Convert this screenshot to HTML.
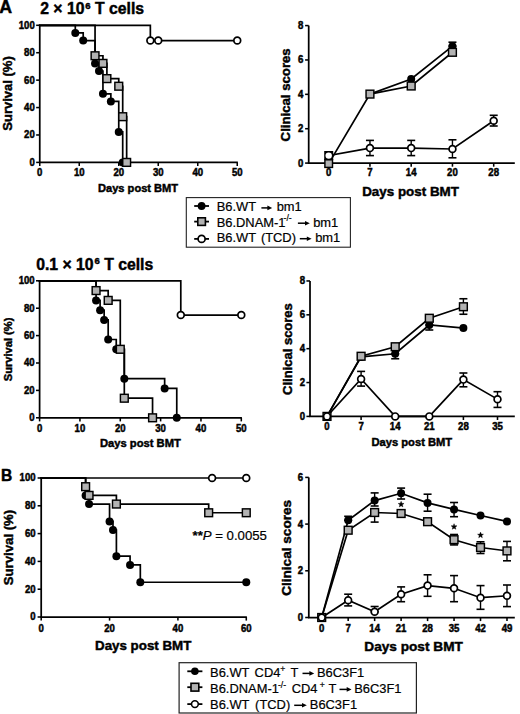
<!DOCTYPE html>
<html><head><meta charset="utf-8"><style>
html,body{margin:0;padding:0;background:#fff;width:520px;height:714px;overflow:hidden}
svg{display:block}
text{font-family:"Liberation Sans", sans-serif;fill:#000}
text[font-weight=bold]{stroke:#000;stroke-width:0.45px}
.lg{stroke:#000;stroke-width:0.2px}
</style></head><body>
<svg width="520" height="714" viewBox="0 0 520 714">
<text x="-0.70" y="12.50" font-size="17.8" text-anchor="start" font-weight="bold" >A</text>
<text x="40.2" y="14.4" font-size="15.75" font-weight="bold">2 × 10<tspan font-size="9.6" dx="0.9" dy="-5.7">6</tspan><tspan dy="5.7"> T cells</tspan></text>
<line x1="39.75" y1="25.30" x2="39.75" y2="162.40" stroke="#000" stroke-width="1.75"/>
<line x1="38.95" y1="162.40" x2="237.85" y2="162.40" stroke="#000" stroke-width="1.75"/>
<line x1="36.15" y1="162.40" x2="39.75" y2="162.40" stroke="#000" stroke-width="1.55"/>
<text transform="translate(34.80,165.80) scale(1,1.07)" font-size="9.6" text-anchor="end" font-weight="bold">0</text>
<line x1="36.15" y1="134.98" x2="39.75" y2="134.98" stroke="#000" stroke-width="1.55"/>
<text transform="translate(34.80,138.38) scale(1,1.07)" font-size="9.6" text-anchor="end" font-weight="bold">20</text>
<line x1="36.15" y1="107.56" x2="39.75" y2="107.56" stroke="#000" stroke-width="1.55"/>
<text transform="translate(34.80,110.96) scale(1,1.07)" font-size="9.6" text-anchor="end" font-weight="bold">40</text>
<line x1="36.15" y1="80.14" x2="39.75" y2="80.14" stroke="#000" stroke-width="1.55"/>
<text transform="translate(34.80,83.54) scale(1,1.07)" font-size="9.6" text-anchor="end" font-weight="bold">60</text>
<line x1="36.15" y1="52.72" x2="39.75" y2="52.72" stroke="#000" stroke-width="1.55"/>
<text transform="translate(34.80,56.12) scale(1,1.07)" font-size="9.6" text-anchor="end" font-weight="bold">80</text>
<line x1="36.15" y1="25.30" x2="39.75" y2="25.30" stroke="#000" stroke-width="1.55"/>
<text transform="translate(34.80,28.70) scale(1,1.07)" font-size="9.6" text-anchor="end" font-weight="bold">100</text>
<line x1="39.75" y1="162.40" x2="39.75" y2="166.00" stroke="#000" stroke-width="1.55"/>
<text transform="translate(39.75,176.40) scale(1,1.07)" font-size="9.6" text-anchor="middle" font-weight="bold">0</text>
<line x1="79.25" y1="162.40" x2="79.25" y2="166.00" stroke="#000" stroke-width="1.55"/>
<text transform="translate(79.25,176.40) scale(1,1.07)" font-size="9.6" text-anchor="middle" font-weight="bold">10</text>
<line x1="118.75" y1="162.40" x2="118.75" y2="166.00" stroke="#000" stroke-width="1.55"/>
<text transform="translate(118.75,176.40) scale(1,1.07)" font-size="9.6" text-anchor="middle" font-weight="bold">20</text>
<line x1="158.25" y1="162.40" x2="158.25" y2="166.00" stroke="#000" stroke-width="1.55"/>
<text transform="translate(158.25,176.40) scale(1,1.07)" font-size="9.6" text-anchor="middle" font-weight="bold">30</text>
<line x1="197.75" y1="162.40" x2="197.75" y2="166.00" stroke="#000" stroke-width="1.55"/>
<text transform="translate(197.75,176.40) scale(1,1.07)" font-size="9.6" text-anchor="middle" font-weight="bold">40</text>
<line x1="237.25" y1="162.40" x2="237.25" y2="166.00" stroke="#000" stroke-width="1.55"/>
<text transform="translate(237.25,176.40) scale(1,1.07)" font-size="9.6" text-anchor="middle" font-weight="bold">50</text>
<text transform="translate(12.00,93.45) rotate(-90)" x="0" y="0" font-size="13.0" text-anchor="middle" font-weight="bold">Survival (%)</text>
<text x="98.00" y="191.80" font-size="11.1" text-anchor="start" font-weight="bold" >Days post BMT</text>
<polyline points="39.75,25.30 75.30,25.30 75.30,32.92 83.20,32.92 83.20,40.53 95.05,40.53 95.05,63.39 99.00,63.39 99.00,71.00 102.95,71.00 102.95,93.85 110.85,93.85 110.85,101.47 118.75,101.47 118.75,131.94 122.70,131.94 122.70,162.40" fill="none" stroke="#000" stroke-width="1.7" stroke-linejoin="miter" stroke-linecap="square"/>
<polyline points="39.75,25.30 95.05,25.30 95.05,55.76 102.95,55.76 102.95,63.39 106.90,63.39 106.90,78.62 118.75,78.62 118.75,86.23 122.70,86.23 122.70,116.70 126.65,116.70 126.65,162.40" fill="none" stroke="#000" stroke-width="1.7" stroke-linejoin="miter" stroke-linecap="square"/>
<polyline points="39.75,25.30 150.35,25.30 150.35,40.53 237.25,40.53" fill="none" stroke="#000" stroke-width="1.7" stroke-linejoin="miter" stroke-linecap="square"/>
<circle cx="75.30" cy="32.92" r="4.0" fill="#000"/>
<circle cx="83.20" cy="40.53" r="4.0" fill="#000"/>
<circle cx="95.05" cy="63.39" r="4.0" fill="#000"/>
<circle cx="99.00" cy="71.00" r="4.0" fill="#000"/>
<circle cx="102.95" cy="93.85" r="4.0" fill="#000"/>
<circle cx="110.85" cy="101.47" r="4.0" fill="#000"/>
<circle cx="118.75" cy="131.94" r="4.0" fill="#000"/>
<circle cx="122.70" cy="162.40" r="4.0" fill="#000"/>
<rect x="91.15" y="51.86" width="7.8" height="7.8" fill="#b3b3b3" stroke="#000" stroke-width="1.45"/>
<rect x="99.05" y="59.49" width="7.8" height="7.8" fill="#b3b3b3" stroke="#000" stroke-width="1.45"/>
<rect x="103.00" y="74.72" width="7.8" height="7.8" fill="#b3b3b3" stroke="#000" stroke-width="1.45"/>
<rect x="114.85" y="82.33" width="7.8" height="7.8" fill="#b3b3b3" stroke="#000" stroke-width="1.45"/>
<rect x="118.80" y="112.80" width="7.8" height="7.8" fill="#b3b3b3" stroke="#000" stroke-width="1.45"/>
<rect x="122.75" y="158.50" width="7.8" height="7.8" fill="#b3b3b3" stroke="#000" stroke-width="1.45"/>
<circle cx="150.35" cy="40.53" r="3.4" fill="#fff" stroke="#000" stroke-width="1.7"/>
<circle cx="158.25" cy="40.53" r="3.4" fill="#fff" stroke="#000" stroke-width="1.7"/>
<circle cx="237.25" cy="40.53" r="3.4" fill="#fff" stroke="#000" stroke-width="1.7"/>
<line x1="308.70" y1="25.58" x2="308.70" y2="163.10" stroke="#000" stroke-width="1.75"/>
<line x1="307.90" y1="163.10" x2="514.80" y2="163.10" stroke="#000" stroke-width="1.75"/>
<line x1="305.10" y1="163.10" x2="308.70" y2="163.10" stroke="#000" stroke-width="1.55"/>
<text transform="translate(303.30,166.50) scale(1,1.07)" font-size="9.6" text-anchor="end" font-weight="bold">0</text>
<line x1="305.10" y1="128.72" x2="308.70" y2="128.72" stroke="#000" stroke-width="1.55"/>
<text transform="translate(303.30,132.12) scale(1,1.07)" font-size="9.6" text-anchor="end" font-weight="bold">2</text>
<line x1="305.10" y1="94.34" x2="308.70" y2="94.34" stroke="#000" stroke-width="1.55"/>
<text transform="translate(303.30,97.74) scale(1,1.07)" font-size="9.6" text-anchor="end" font-weight="bold">4</text>
<line x1="305.10" y1="59.96" x2="308.70" y2="59.96" stroke="#000" stroke-width="1.55"/>
<text transform="translate(303.30,63.36) scale(1,1.07)" font-size="9.6" text-anchor="end" font-weight="bold">6</text>
<line x1="305.10" y1="25.58" x2="308.70" y2="25.58" stroke="#000" stroke-width="1.55"/>
<text transform="translate(303.30,28.98) scale(1,1.07)" font-size="9.6" text-anchor="end" font-weight="bold">8</text>
<line x1="328.70" y1="163.10" x2="328.70" y2="166.70" stroke="#000" stroke-width="1.55"/>
<text transform="translate(328.70,176.40) scale(1,1.07)" font-size="9.6" text-anchor="middle" font-weight="bold">0</text>
<line x1="369.95" y1="163.10" x2="369.95" y2="166.70" stroke="#000" stroke-width="1.55"/>
<text transform="translate(369.95,176.40) scale(1,1.07)" font-size="9.6" text-anchor="middle" font-weight="bold">7</text>
<line x1="411.20" y1="163.10" x2="411.20" y2="166.70" stroke="#000" stroke-width="1.55"/>
<text transform="translate(411.20,176.40) scale(1,1.07)" font-size="9.6" text-anchor="middle" font-weight="bold">14</text>
<line x1="452.45" y1="163.10" x2="452.45" y2="166.70" stroke="#000" stroke-width="1.55"/>
<text transform="translate(452.45,176.40) scale(1,1.07)" font-size="9.6" text-anchor="middle" font-weight="bold">20</text>
<line x1="493.70" y1="163.10" x2="493.70" y2="166.70" stroke="#000" stroke-width="1.55"/>
<text transform="translate(493.70,176.40) scale(1,1.07)" font-size="9.6" text-anchor="middle" font-weight="bold">28</text>
<text transform="translate(290.40,94.85) rotate(-90)" x="0" y="0" font-size="13.2" text-anchor="middle" font-weight="bold">Clinical scores</text>
<text x="362.20" y="195.60" font-size="13.4" text-anchor="start" font-weight="bold" >Days post BMT</text>
<polyline points="328.70,163.60 369.95,94.10 411.20,86.00 452.45,52.30" fill="none" stroke="#000" stroke-width="1.7" stroke-linejoin="miter" stroke-linecap="square"/>
<polyline points="369.95,94.10 411.20,79.00 452.45,46.20" fill="none" stroke="#000" stroke-width="1.7" stroke-linejoin="miter" stroke-linecap="square"/>
<polyline points="328.70,155.60 369.95,148.10 411.20,148.10 452.45,149.00 493.70,120.70" fill="none" stroke="#000" stroke-width="1.7" stroke-linejoin="miter" stroke-linecap="square"/>
<line x1="452.45" y1="42.20" x2="452.45" y2="46.00" stroke="#000" stroke-width="1.4"/>
<line x1="448.45" y1="42.20" x2="456.45" y2="42.20" stroke="#000" stroke-width="1.5999999999999999"/>
<line x1="448.45" y1="46.00" x2="456.45" y2="46.00" stroke="#000" stroke-width="1.5999999999999999"/>
<circle cx="411.20" cy="79.00" r="4.0" fill="#000"/>
<circle cx="452.45" cy="46.20" r="4.0" fill="#000"/>
<rect x="324.20" y="151" width="9" height="9" fill="#000"/>
<rect x="324.90" y="159.80" width="7.6" height="7.6" fill="#b3b3b3" stroke="#000" stroke-width="1.45"/>
<rect x="366.05" y="90.20" width="7.8" height="7.8" fill="#b3b3b3" stroke="#000" stroke-width="1.45"/>
<rect x="407.30" y="82.10" width="7.8" height="7.8" fill="#b3b3b3" stroke="#000" stroke-width="1.45"/>
<rect x="448.55" y="48.40" width="7.8" height="7.8" fill="#b3b3b3" stroke="#000" stroke-width="1.45"/>
<line x1="369.95" y1="140.40" x2="369.95" y2="155.60" stroke="#000" stroke-width="1.4"/>
<line x1="365.95" y1="140.40" x2="373.95" y2="140.40" stroke="#000" stroke-width="1.5999999999999999"/>
<line x1="365.95" y1="155.60" x2="373.95" y2="155.60" stroke="#000" stroke-width="1.5999999999999999"/>
<line x1="411.20" y1="140.40" x2="411.20" y2="155.60" stroke="#000" stroke-width="1.4"/>
<line x1="407.20" y1="140.40" x2="415.20" y2="140.40" stroke="#000" stroke-width="1.5999999999999999"/>
<line x1="407.20" y1="155.60" x2="415.20" y2="155.60" stroke="#000" stroke-width="1.5999999999999999"/>
<line x1="452.45" y1="139.80" x2="452.45" y2="157.80" stroke="#000" stroke-width="1.4"/>
<line x1="448.45" y1="139.80" x2="456.45" y2="139.80" stroke="#000" stroke-width="1.5999999999999999"/>
<line x1="448.45" y1="157.80" x2="456.45" y2="157.80" stroke="#000" stroke-width="1.5999999999999999"/>
<line x1="493.70" y1="115.30" x2="493.70" y2="126.00" stroke="#000" stroke-width="1.4"/>
<line x1="489.70" y1="115.30" x2="497.70" y2="115.30" stroke="#000" stroke-width="1.5999999999999999"/>
<line x1="489.70" y1="126.00" x2="497.70" y2="126.00" stroke="#000" stroke-width="1.5999999999999999"/>
<circle cx="328.70" cy="155.60" r="3.2" fill="#fff" stroke="#000" stroke-width="0.01"/>
<circle cx="369.95" cy="148.10" r="3.4" fill="#fff" stroke="#000" stroke-width="1.7"/>
<circle cx="411.20" cy="148.10" r="3.4" fill="#fff" stroke="#000" stroke-width="1.7"/>
<circle cx="452.45" cy="149.00" r="3.4" fill="#fff" stroke="#000" stroke-width="1.7"/>
<circle cx="493.70" cy="120.70" r="3.4" fill="#fff" stroke="#000" stroke-width="1.7"/>
<rect x="186.3" y="197.6" width="164.1" height="49.6" fill="none" stroke="#222" stroke-width="1.1"/>
<line x1="194.20" y1="206.00" x2="209.00" y2="206.00" stroke="#000" stroke-width="1.8"/>
<circle cx="201.60" cy="206.00" r="3.9" fill="#000"/>
<line x1="194.20" y1="221.60" x2="209.00" y2="221.60" stroke="#000" stroke-width="1.8"/>
<rect x="197.80" y="217.80" width="7.6" height="7.6" fill="#b3b3b3" stroke="#000" stroke-width="1.6"/>
<line x1="194.20" y1="238.90" x2="209.00" y2="238.90" stroke="#000" stroke-width="1.8"/>
<circle cx="201.60" cy="238.90" r="3.5" fill="#fff" stroke="#000" stroke-width="1.7"/>
<text x="216.70" y="211.30" font-size="12.9" class="lg">B6.WT</text>
<line x1="261.40" y1="207.90" x2="268.70" y2="207.90" stroke="#000" stroke-width="1.5"/>
<path d="M267.40,205.60 L272.20,207.90 L267.40,210.20 Z" fill="#000"/>
<text x="276.70" y="211.30" font-size="12.9" class="lg">bm1</text>
<text x="216.70" y="226.60" font-size="12.9" class="lg">B6.DNAM-1</text>
<text x="283.60" y="221.00" font-size="8.6" class="lg">-/-</text>
<line x1="297.90" y1="223.20" x2="306.30" y2="223.20" stroke="#000" stroke-width="1.5"/>
<path d="M305.00,220.90 L309.80,223.20 L305.00,225.50 Z" fill="#000"/>
<text x="313.20" y="226.60" font-size="12.9" class="lg">bm1</text>
<text x="216.70" y="242.10" font-size="12.9" class="lg">B6.WT</text>
<text x="260.90" y="242.10" font-size="12.9" class="lg">(TCD)</text>
<line x1="299.80" y1="238.70" x2="308.10" y2="238.70" stroke="#000" stroke-width="1.5"/>
<path d="M306.80,236.40 L311.60,238.70 L306.80,241.00 Z" fill="#000"/>
<text x="315.20" y="242.10" font-size="12.9" class="lg">bm1</text>
<text x="36.2" y="270" font-size="15.75" font-weight="bold">0.1 × 10<tspan font-size="9.6" dx="0.9" dy="-5.7">6</tspan><tspan dy="5.7"> T cells</tspan></text>
<line x1="39.60" y1="280.80" x2="39.60" y2="417.80" stroke="#000" stroke-width="1.75"/>
<line x1="38.80" y1="417.80" x2="241.90" y2="417.80" stroke="#000" stroke-width="1.75"/>
<line x1="36.00" y1="417.80" x2="39.60" y2="417.80" stroke="#000" stroke-width="1.55"/>
<text transform="translate(34.70,421.20) scale(1,1.07)" font-size="9.6" text-anchor="end" font-weight="bold">0</text>
<line x1="36.00" y1="390.40" x2="39.60" y2="390.40" stroke="#000" stroke-width="1.55"/>
<text transform="translate(34.70,393.80) scale(1,1.07)" font-size="9.6" text-anchor="end" font-weight="bold">20</text>
<line x1="36.00" y1="363.00" x2="39.60" y2="363.00" stroke="#000" stroke-width="1.55"/>
<text transform="translate(34.70,366.40) scale(1,1.07)" font-size="9.6" text-anchor="end" font-weight="bold">40</text>
<line x1="36.00" y1="335.60" x2="39.60" y2="335.60" stroke="#000" stroke-width="1.55"/>
<text transform="translate(34.70,339.00) scale(1,1.07)" font-size="9.6" text-anchor="end" font-weight="bold">60</text>
<line x1="36.00" y1="308.20" x2="39.60" y2="308.20" stroke="#000" stroke-width="1.55"/>
<text transform="translate(34.70,311.60) scale(1,1.07)" font-size="9.6" text-anchor="end" font-weight="bold">80</text>
<line x1="36.00" y1="280.80" x2="39.60" y2="280.80" stroke="#000" stroke-width="1.55"/>
<text transform="translate(34.70,284.20) scale(1,1.07)" font-size="9.6" text-anchor="end" font-weight="bold">100</text>
<line x1="39.60" y1="417.80" x2="39.60" y2="421.40" stroke="#000" stroke-width="1.55"/>
<text transform="translate(39.60,431.60) scale(1,1.07)" font-size="9.6" text-anchor="middle" font-weight="bold">0</text>
<line x1="79.94" y1="417.80" x2="79.94" y2="421.40" stroke="#000" stroke-width="1.55"/>
<text transform="translate(79.94,431.60) scale(1,1.07)" font-size="9.6" text-anchor="middle" font-weight="bold">10</text>
<line x1="120.28" y1="417.80" x2="120.28" y2="421.40" stroke="#000" stroke-width="1.55"/>
<text transform="translate(120.28,431.60) scale(1,1.07)" font-size="9.6" text-anchor="middle" font-weight="bold">20</text>
<line x1="160.62" y1="417.80" x2="160.62" y2="421.40" stroke="#000" stroke-width="1.55"/>
<text transform="translate(160.62,431.60) scale(1,1.07)" font-size="9.6" text-anchor="middle" font-weight="bold">30</text>
<line x1="200.96" y1="417.80" x2="200.96" y2="421.40" stroke="#000" stroke-width="1.55"/>
<text transform="translate(200.96,431.60) scale(1,1.07)" font-size="9.6" text-anchor="middle" font-weight="bold">40</text>
<line x1="241.30" y1="417.80" x2="241.30" y2="421.40" stroke="#000" stroke-width="1.55"/>
<text transform="translate(241.30,431.60) scale(1,1.07)" font-size="9.6" text-anchor="middle" font-weight="bold">50</text>
<text transform="translate(12.00,349.40) rotate(-90)" x="0" y="0" font-size="11.1" text-anchor="middle" font-weight="bold">Survival (%)</text>
<text x="100.00" y="447.40" font-size="11.2" text-anchor="start" font-weight="bold" >Days post BMT</text>
<polyline points="39.60,280.80 96.08,280.80 96.08,300.38 100.11,300.38 100.11,310.16 104.14,310.16 104.14,319.94 108.18,319.94 108.18,339.52 116.25,339.52 116.25,349.30 124.31,349.30 124.31,378.66 164.65,378.66 164.65,388.44 176.76,388.44 176.76,417.80" fill="none" stroke="#000" stroke-width="1.7" stroke-linejoin="miter" stroke-linecap="square"/>
<polyline points="39.60,280.80 96.08,280.80 96.08,290.58 108.18,290.58 108.18,300.38 120.28,300.38 120.28,349.30 124.31,349.30 124.31,398.22 152.55,398.22 152.55,417.80" fill="none" stroke="#000" stroke-width="1.7" stroke-linejoin="miter" stroke-linecap="square"/>
<polyline points="39.60,280.80 180.79,280.80 180.79,315.05 241.30,315.05" fill="none" stroke="#000" stroke-width="1.7" stroke-linejoin="miter" stroke-linecap="square"/>
<circle cx="96.08" cy="300.38" r="4.0" fill="#000"/>
<circle cx="100.11" cy="310.16" r="4.0" fill="#000"/>
<circle cx="104.14" cy="319.94" r="4.0" fill="#000"/>
<circle cx="108.18" cy="339.52" r="4.0" fill="#000"/>
<circle cx="116.25" cy="349.30" r="4.0" fill="#000"/>
<circle cx="124.31" cy="378.66" r="4.0" fill="#000"/>
<circle cx="164.65" cy="388.44" r="4.0" fill="#000"/>
<circle cx="176.76" cy="417.80" r="4.0" fill="#000"/>
<rect x="92.18" y="286.68" width="7.8" height="7.8" fill="#b3b3b3" stroke="#000" stroke-width="1.45"/>
<rect x="104.28" y="296.48" width="7.8" height="7.8" fill="#b3b3b3" stroke="#000" stroke-width="1.45"/>
<rect x="116.38" y="345.40" width="7.8" height="7.8" fill="#b3b3b3" stroke="#000" stroke-width="1.45"/>
<rect x="120.41" y="394.32" width="7.8" height="7.8" fill="#b3b3b3" stroke="#000" stroke-width="1.45"/>
<rect x="148.65" y="413.90" width="7.8" height="7.8" fill="#b3b3b3" stroke="#000" stroke-width="1.45"/>
<circle cx="180.79" cy="315.05" r="3.4" fill="#fff" stroke="#000" stroke-width="1.7"/>
<circle cx="241.30" cy="315.05" r="3.4" fill="#fff" stroke="#000" stroke-width="1.7"/>
<line x1="310.00" y1="280.96" x2="310.00" y2="416.40" stroke="#000" stroke-width="1.75"/>
<line x1="309.20" y1="416.40" x2="514.80" y2="416.40" stroke="#000" stroke-width="1.75"/>
<line x1="306.40" y1="416.40" x2="310.00" y2="416.40" stroke="#000" stroke-width="1.55"/>
<text transform="translate(305.20,419.80) scale(1,1.07)" font-size="9.6" text-anchor="end" font-weight="bold">0</text>
<line x1="306.40" y1="382.54" x2="310.00" y2="382.54" stroke="#000" stroke-width="1.55"/>
<text transform="translate(305.20,385.94) scale(1,1.07)" font-size="9.6" text-anchor="end" font-weight="bold">2</text>
<line x1="306.40" y1="348.68" x2="310.00" y2="348.68" stroke="#000" stroke-width="1.55"/>
<text transform="translate(305.20,352.08) scale(1,1.07)" font-size="9.6" text-anchor="end" font-weight="bold">4</text>
<line x1="306.40" y1="314.82" x2="310.00" y2="314.82" stroke="#000" stroke-width="1.55"/>
<text transform="translate(305.20,318.22) scale(1,1.07)" font-size="9.6" text-anchor="end" font-weight="bold">6</text>
<line x1="306.40" y1="280.96" x2="310.00" y2="280.96" stroke="#000" stroke-width="1.55"/>
<text transform="translate(305.20,284.36) scale(1,1.07)" font-size="9.6" text-anchor="end" font-weight="bold">8</text>
<line x1="327.00" y1="416.40" x2="327.00" y2="420.00" stroke="#000" stroke-width="1.55"/>
<text transform="translate(327.00,430.30) scale(1,1.07)" font-size="9.6" text-anchor="middle" font-weight="bold">0</text>
<line x1="361.10" y1="416.40" x2="361.10" y2="420.00" stroke="#000" stroke-width="1.55"/>
<text transform="translate(361.10,430.30) scale(1,1.07)" font-size="9.6" text-anchor="middle" font-weight="bold">7</text>
<line x1="395.20" y1="416.40" x2="395.20" y2="420.00" stroke="#000" stroke-width="1.55"/>
<text transform="translate(395.20,430.30) scale(1,1.07)" font-size="9.6" text-anchor="middle" font-weight="bold">14</text>
<line x1="429.30" y1="416.40" x2="429.30" y2="420.00" stroke="#000" stroke-width="1.55"/>
<text transform="translate(429.30,430.30) scale(1,1.07)" font-size="9.6" text-anchor="middle" font-weight="bold">21</text>
<line x1="463.40" y1="416.40" x2="463.40" y2="420.00" stroke="#000" stroke-width="1.55"/>
<text transform="translate(463.40,430.30) scale(1,1.07)" font-size="9.6" text-anchor="middle" font-weight="bold">28</text>
<line x1="497.50" y1="416.40" x2="497.50" y2="420.00" stroke="#000" stroke-width="1.55"/>
<text transform="translate(497.50,430.30) scale(1,1.07)" font-size="9.6" text-anchor="middle" font-weight="bold">35</text>
<text transform="translate(292.40,349.05) rotate(-90)" x="0" y="0" font-size="13.0" text-anchor="middle" font-weight="bold">Clinical scores</text>
<text x="371.40" y="446.10" font-size="11.2" text-anchor="start" font-weight="bold" >Days post BMT</text>
<polyline points="327.00,416.40 361.10,356.25 395.20,346.75 429.30,318.25 463.40,306.75" fill="none" stroke="#000" stroke-width="1.7" stroke-linejoin="miter" stroke-linecap="square"/>
<polyline points="327.00,416.40 361.10,356.90 395.20,353.75 429.30,325.00 463.40,328.00" fill="none" stroke="#000" stroke-width="1.7" stroke-linejoin="miter" stroke-linecap="square"/>
<polyline points="327.00,416.40 361.10,379.00 395.20,416.40 429.30,416.40 463.40,379.60 497.50,399.20" fill="none" stroke="#000" stroke-width="1.7" stroke-linejoin="miter" stroke-linecap="square"/>
<line x1="395.20" y1="353.75" x2="395.20" y2="358.75" stroke="#000" stroke-width="1.4"/>
<line x1="391.20" y1="353.75" x2="399.20" y2="353.75" stroke="#000" stroke-width="1.5999999999999999"/>
<line x1="391.20" y1="358.75" x2="399.20" y2="358.75" stroke="#000" stroke-width="1.5999999999999999"/>
<line x1="429.30" y1="325.00" x2="429.30" y2="330.00" stroke="#000" stroke-width="1.4"/>
<line x1="425.30" y1="325.00" x2="433.30" y2="325.00" stroke="#000" stroke-width="1.5999999999999999"/>
<line x1="425.30" y1="330.00" x2="433.30" y2="330.00" stroke="#000" stroke-width="1.5999999999999999"/>
<circle cx="361.10" cy="356.90" r="4.0" fill="#000"/>
<circle cx="395.20" cy="353.75" r="4.0" fill="#000"/>
<circle cx="429.30" cy="325.00" r="4.0" fill="#000"/>
<circle cx="463.40" cy="328.00" r="4.0" fill="#000"/>
<line x1="463.40" y1="298.75" x2="463.40" y2="314.25" stroke="#000" stroke-width="1.4"/>
<line x1="459.40" y1="298.75" x2="467.40" y2="298.75" stroke="#000" stroke-width="1.5999999999999999"/>
<line x1="459.40" y1="314.25" x2="467.40" y2="314.25" stroke="#000" stroke-width="1.5999999999999999"/>
<rect x="323.10" y="412.50" width="7.8" height="7.8" fill="#b3b3b3" stroke="#000" stroke-width="1.45"/>
<rect x="357.20" y="352.35" width="7.8" height="7.8" fill="#b3b3b3" stroke="#000" stroke-width="1.45"/>
<rect x="391.30" y="342.85" width="7.8" height="7.8" fill="#b3b3b3" stroke="#000" stroke-width="1.45"/>
<rect x="425.40" y="314.35" width="7.8" height="7.8" fill="#b3b3b3" stroke="#000" stroke-width="1.45"/>
<rect x="459.50" y="302.85" width="7.8" height="7.8" fill="#b3b3b3" stroke="#000" stroke-width="1.45"/>
<line x1="361.10" y1="371.40" x2="361.10" y2="386.10" stroke="#000" stroke-width="1.4"/>
<line x1="357.10" y1="371.40" x2="365.10" y2="371.40" stroke="#000" stroke-width="1.5999999999999999"/>
<line x1="357.10" y1="386.10" x2="365.10" y2="386.10" stroke="#000" stroke-width="1.5999999999999999"/>
<line x1="463.40" y1="373.00" x2="463.40" y2="386.80" stroke="#000" stroke-width="1.4"/>
<line x1="459.40" y1="373.00" x2="467.40" y2="373.00" stroke="#000" stroke-width="1.5999999999999999"/>
<line x1="459.40" y1="386.80" x2="467.40" y2="386.80" stroke="#000" stroke-width="1.5999999999999999"/>
<line x1="497.50" y1="391.70" x2="497.50" y2="407.40" stroke="#000" stroke-width="1.4"/>
<line x1="493.50" y1="391.70" x2="501.50" y2="391.70" stroke="#000" stroke-width="1.5999999999999999"/>
<line x1="493.50" y1="407.40" x2="501.50" y2="407.40" stroke="#000" stroke-width="1.5999999999999999"/>
<circle cx="327.00" cy="416.40" r="3.4" fill="#fff" stroke="#000" stroke-width="1.7"/>
<circle cx="361.10" cy="379.00" r="3.4" fill="#fff" stroke="#000" stroke-width="1.7"/>
<circle cx="395.20" cy="416.40" r="3.4" fill="#fff" stroke="#000" stroke-width="1.7"/>
<circle cx="429.30" cy="416.40" r="3.4" fill="#fff" stroke="#000" stroke-width="1.7"/>
<circle cx="463.40" cy="379.60" r="3.4" fill="#fff" stroke="#000" stroke-width="1.7"/>
<circle cx="497.50" cy="399.20" r="3.4" fill="#fff" stroke="#000" stroke-width="1.7"/>
<text x="0.90" y="481.10" font-size="15.6" text-anchor="start" font-weight="bold" >B</text>
<line x1="41.20" y1="478.00" x2="41.20" y2="617.00" stroke="#000" stroke-width="1.75"/>
<line x1="40.40" y1="617.00" x2="246.88" y2="617.00" stroke="#000" stroke-width="1.75"/>
<line x1="37.60" y1="617.00" x2="41.20" y2="617.00" stroke="#000" stroke-width="1.55"/>
<text transform="translate(35.60,620.40) scale(1,1.07)" font-size="9.6" text-anchor="end" font-weight="bold">0</text>
<line x1="37.60" y1="589.20" x2="41.20" y2="589.20" stroke="#000" stroke-width="1.55"/>
<text transform="translate(35.60,592.60) scale(1,1.07)" font-size="9.6" text-anchor="end" font-weight="bold">20</text>
<line x1="37.60" y1="561.40" x2="41.20" y2="561.40" stroke="#000" stroke-width="1.55"/>
<text transform="translate(35.60,564.80) scale(1,1.07)" font-size="9.6" text-anchor="end" font-weight="bold">40</text>
<line x1="37.60" y1="533.60" x2="41.20" y2="533.60" stroke="#000" stroke-width="1.55"/>
<text transform="translate(35.60,537.00) scale(1,1.07)" font-size="9.6" text-anchor="end" font-weight="bold">60</text>
<line x1="37.60" y1="505.80" x2="41.20" y2="505.80" stroke="#000" stroke-width="1.55"/>
<text transform="translate(35.60,509.20) scale(1,1.07)" font-size="9.6" text-anchor="end" font-weight="bold">80</text>
<line x1="37.60" y1="478.00" x2="41.20" y2="478.00" stroke="#000" stroke-width="1.55"/>
<text transform="translate(35.60,481.40) scale(1,1.07)" font-size="9.6" text-anchor="end" font-weight="bold">100</text>
<line x1="41.20" y1="617.00" x2="41.20" y2="620.60" stroke="#000" stroke-width="1.55"/>
<text transform="translate(41.20,631.80) scale(1,1.07)" font-size="9.6" text-anchor="middle" font-weight="bold">0</text>
<line x1="109.56" y1="617.00" x2="109.56" y2="620.60" stroke="#000" stroke-width="1.55"/>
<text transform="translate(109.56,631.80) scale(1,1.07)" font-size="9.6" text-anchor="middle" font-weight="bold">20</text>
<line x1="177.92" y1="617.00" x2="177.92" y2="620.60" stroke="#000" stroke-width="1.55"/>
<text transform="translate(177.92,631.80) scale(1,1.07)" font-size="9.6" text-anchor="middle" font-weight="bold">40</text>
<line x1="246.28" y1="617.00" x2="246.28" y2="620.60" stroke="#000" stroke-width="1.55"/>
<text transform="translate(246.28,631.80) scale(1,1.07)" font-size="9.6" text-anchor="middle" font-weight="bold">60</text>
<text transform="translate(12.60,547.50) rotate(-90)" x="0" y="0" font-size="13.2" text-anchor="middle" font-weight="bold">Survival (%)</text>
<text x="95.00" y="649.60" font-size="13.35" text-anchor="start" font-weight="bold" >Days post BMT</text>
<polyline points="41.20,478.00 85.63,478.00 85.63,495.38 89.05,495.38 89.05,504.06 109.56,504.06 109.56,521.44 112.98,521.44 112.98,530.12 116.40,530.12 116.40,556.19 130.07,556.19 130.07,564.88 140.32,564.88 140.32,582.25 246.28,582.25" fill="none" stroke="#000" stroke-width="1.7" stroke-linejoin="miter" stroke-linecap="square"/>
<polyline points="41.20,478.00 85.63,478.00 85.63,486.69 89.05,486.69 89.05,495.38 116.40,495.38 116.40,504.06 208.68,504.06 208.68,512.75 246.28,512.75" fill="none" stroke="#000" stroke-width="1.7" stroke-linejoin="miter" stroke-linecap="square"/>
<polyline points="41.20,478.00 246.28,478.00" fill="none" stroke="#000" stroke-width="1.7" stroke-linejoin="miter" stroke-linecap="square"/>
<circle cx="85.63" cy="495.38" r="4.0" fill="#000"/>
<circle cx="89.05" cy="504.06" r="4.0" fill="#000"/>
<circle cx="109.56" cy="521.44" r="4.0" fill="#000"/>
<circle cx="112.98" cy="530.12" r="4.0" fill="#000"/>
<circle cx="116.40" cy="556.19" r="4.0" fill="#000"/>
<circle cx="130.07" cy="564.88" r="4.0" fill="#000"/>
<circle cx="140.32" cy="582.25" r="4.0" fill="#000"/>
<circle cx="246.28" cy="582.25" r="4.0" fill="#000"/>
<rect x="81.73" y="482.79" width="7.8" height="7.8" fill="#b3b3b3" stroke="#000" stroke-width="1.45"/>
<rect x="85.15" y="491.48" width="7.8" height="7.8" fill="#b3b3b3" stroke="#000" stroke-width="1.45"/>
<rect x="112.50" y="500.16" width="7.8" height="7.8" fill="#b3b3b3" stroke="#000" stroke-width="1.45"/>
<rect x="204.78" y="508.85" width="7.8" height="7.8" fill="#b3b3b3" stroke="#000" stroke-width="1.45"/>
<rect x="242.38" y="508.85" width="7.8" height="7.8" fill="#b3b3b3" stroke="#000" stroke-width="1.45"/>
<circle cx="212.10" cy="478.00" r="3.4" fill="#fff" stroke="#000" stroke-width="1.7"/>
<circle cx="246.28" cy="478.00" r="3.4" fill="#fff" stroke="#000" stroke-width="1.7"/>
<text x="192.5" y="540.2" font-size="13.2" font-weight="normal" class="lg"><tspan font-weight="bold">**</tspan><tspan font-style="italic">P</tspan> = 0.0055</text>
<line x1="308.80" y1="477.40" x2="308.80" y2="617.50" stroke="#000" stroke-width="1.75"/>
<line x1="308.00" y1="617.50" x2="514.80" y2="617.50" stroke="#000" stroke-width="1.75"/>
<line x1="305.20" y1="617.50" x2="308.80" y2="617.50" stroke="#000" stroke-width="1.55"/>
<text transform="translate(303.20,620.90) scale(1,1.07)" font-size="9.6" text-anchor="end" font-weight="bold">0</text>
<line x1="305.20" y1="570.80" x2="308.80" y2="570.80" stroke="#000" stroke-width="1.55"/>
<text transform="translate(303.20,574.20) scale(1,1.07)" font-size="9.6" text-anchor="end" font-weight="bold">2</text>
<line x1="305.20" y1="524.10" x2="308.80" y2="524.10" stroke="#000" stroke-width="1.55"/>
<text transform="translate(303.20,527.50) scale(1,1.07)" font-size="9.6" text-anchor="end" font-weight="bold">4</text>
<line x1="305.20" y1="477.40" x2="308.80" y2="477.40" stroke="#000" stroke-width="1.55"/>
<text transform="translate(303.20,480.80) scale(1,1.07)" font-size="9.6" text-anchor="end" font-weight="bold">6</text>
<line x1="321.70" y1="617.50" x2="321.70" y2="621.10" stroke="#000" stroke-width="1.55"/>
<text transform="translate(321.70,631.60) scale(1,1.07)" font-size="9.6" text-anchor="middle" font-weight="bold">0</text>
<line x1="348.17" y1="617.50" x2="348.17" y2="621.10" stroke="#000" stroke-width="1.55"/>
<text transform="translate(348.17,631.60) scale(1,1.07)" font-size="9.6" text-anchor="middle" font-weight="bold">7</text>
<line x1="374.64" y1="617.50" x2="374.64" y2="621.10" stroke="#000" stroke-width="1.55"/>
<text transform="translate(374.64,631.60) scale(1,1.07)" font-size="9.6" text-anchor="middle" font-weight="bold">14</text>
<line x1="401.11" y1="617.50" x2="401.11" y2="621.10" stroke="#000" stroke-width="1.55"/>
<text transform="translate(401.11,631.60) scale(1,1.07)" font-size="9.6" text-anchor="middle" font-weight="bold">21</text>
<line x1="427.58" y1="617.50" x2="427.58" y2="621.10" stroke="#000" stroke-width="1.55"/>
<text transform="translate(427.58,631.60) scale(1,1.07)" font-size="9.6" text-anchor="middle" font-weight="bold">28</text>
<line x1="454.05" y1="617.50" x2="454.05" y2="621.10" stroke="#000" stroke-width="1.55"/>
<text transform="translate(454.05,631.60) scale(1,1.07)" font-size="9.6" text-anchor="middle" font-weight="bold">35</text>
<line x1="480.52" y1="617.50" x2="480.52" y2="621.10" stroke="#000" stroke-width="1.55"/>
<text transform="translate(480.52,631.60) scale(1,1.07)" font-size="9.6" text-anchor="middle" font-weight="bold">42</text>
<line x1="506.99" y1="617.50" x2="506.99" y2="621.10" stroke="#000" stroke-width="1.55"/>
<text transform="translate(506.99,631.60) scale(1,1.07)" font-size="9.6" text-anchor="middle" font-weight="bold">49</text>
<text transform="translate(290.60,547.85) rotate(-90)" x="0" y="0" font-size="13.6" text-anchor="middle" font-weight="bold">Clinical scores</text>
<text x="364.30" y="650.60" font-size="13.65" text-anchor="start" font-weight="bold" >Days post BMT</text>
<polyline points="321.70,617.50 348.17,520.20 374.64,500.60 401.11,493.30 427.58,502.90 454.05,509.40 480.52,515.50 506.99,521.50" fill="none" stroke="#000" stroke-width="1.7" stroke-linejoin="miter" stroke-linecap="square"/>
<polyline points="321.70,617.50 348.17,530.20 374.64,512.50 401.11,513.50 427.58,521.70 454.05,539.70 480.52,547.50 506.99,550.90" fill="none" stroke="#000" stroke-width="1.7" stroke-linejoin="miter" stroke-linecap="square"/>
<polyline points="321.70,617.50 348.17,600.20 374.64,611.80 401.11,594.20 427.58,585.60 454.05,588.30 480.52,597.70 506.99,595.80" fill="none" stroke="#000" stroke-width="1.7" stroke-linejoin="miter" stroke-linecap="square"/>
<line x1="348.17" y1="516.30" x2="348.17" y2="520.20" stroke="#000" stroke-width="1.4"/>
<line x1="344.17" y1="516.30" x2="352.17" y2="516.30" stroke="#000" stroke-width="1.5999999999999999"/>
<line x1="344.17" y1="520.20" x2="352.17" y2="520.20" stroke="#000" stroke-width="1.5999999999999999"/>
<line x1="374.64" y1="492.90" x2="374.64" y2="506.00" stroke="#000" stroke-width="1.4"/>
<line x1="370.64" y1="492.90" x2="378.64" y2="492.90" stroke="#000" stroke-width="1.5999999999999999"/>
<line x1="370.64" y1="506.00" x2="378.64" y2="506.00" stroke="#000" stroke-width="1.5999999999999999"/>
<line x1="401.11" y1="488.10" x2="401.11" y2="499.00" stroke="#000" stroke-width="1.4"/>
<line x1="397.11" y1="488.10" x2="405.11" y2="488.10" stroke="#000" stroke-width="1.5999999999999999"/>
<line x1="397.11" y1="499.00" x2="405.11" y2="499.00" stroke="#000" stroke-width="1.5999999999999999"/>
<line x1="427.58" y1="494.20" x2="427.58" y2="511.20" stroke="#000" stroke-width="1.4"/>
<line x1="423.58" y1="494.20" x2="431.58" y2="494.20" stroke="#000" stroke-width="1.5999999999999999"/>
<line x1="423.58" y1="511.20" x2="431.58" y2="511.20" stroke="#000" stroke-width="1.5999999999999999"/>
<line x1="454.05" y1="502.50" x2="454.05" y2="516.70" stroke="#000" stroke-width="1.4"/>
<line x1="450.05" y1="502.50" x2="458.05" y2="502.50" stroke="#000" stroke-width="1.5999999999999999"/>
<line x1="450.05" y1="516.70" x2="458.05" y2="516.70" stroke="#000" stroke-width="1.5999999999999999"/>
<circle cx="348.17" cy="520.20" r="4.0" fill="#000"/>
<circle cx="374.64" cy="500.60" r="4.0" fill="#000"/>
<circle cx="401.11" cy="493.30" r="4.0" fill="#000"/>
<circle cx="427.58" cy="502.90" r="4.0" fill="#000"/>
<circle cx="454.05" cy="509.40" r="4.0" fill="#000"/>
<circle cx="480.52" cy="515.50" r="4.0" fill="#000"/>
<circle cx="506.99" cy="521.50" r="4.0" fill="#000"/>
<line x1="374.64" y1="512.50" x2="374.64" y2="522.10" stroke="#000" stroke-width="1.4"/>
<line x1="370.64" y1="512.50" x2="378.64" y2="512.50" stroke="#000" stroke-width="1.5999999999999999"/>
<line x1="370.64" y1="522.10" x2="378.64" y2="522.10" stroke="#000" stroke-width="1.5999999999999999"/>
<line x1="454.05" y1="534.50" x2="454.05" y2="544.90" stroke="#000" stroke-width="1.4"/>
<line x1="450.05" y1="534.50" x2="458.05" y2="534.50" stroke="#000" stroke-width="1.5999999999999999"/>
<line x1="450.05" y1="544.90" x2="458.05" y2="544.90" stroke="#000" stroke-width="1.5999999999999999"/>
<line x1="480.52" y1="541.80" x2="480.52" y2="553.50" stroke="#000" stroke-width="1.4"/>
<line x1="476.52" y1="541.80" x2="484.52" y2="541.80" stroke="#000" stroke-width="1.5999999999999999"/>
<line x1="476.52" y1="553.50" x2="484.52" y2="553.50" stroke="#000" stroke-width="1.5999999999999999"/>
<line x1="506.99" y1="541.40" x2="506.99" y2="560.80" stroke="#000" stroke-width="1.4"/>
<line x1="502.99" y1="541.40" x2="510.99" y2="541.40" stroke="#000" stroke-width="1.5999999999999999"/>
<line x1="502.99" y1="560.80" x2="510.99" y2="560.80" stroke="#000" stroke-width="1.5999999999999999"/>
<rect x="317.80" y="613.60" width="7.8" height="7.8" fill="#b3b3b3" stroke="#000" stroke-width="1.45"/>
<rect x="344.27" y="526.30" width="7.8" height="7.8" fill="#b3b3b3" stroke="#000" stroke-width="1.45"/>
<rect x="370.74" y="508.60" width="7.8" height="7.8" fill="#b3b3b3" stroke="#000" stroke-width="1.45"/>
<rect x="397.21" y="509.60" width="7.8" height="7.8" fill="#b3b3b3" stroke="#000" stroke-width="1.45"/>
<rect x="423.68" y="517.80" width="7.8" height="7.8" fill="#b3b3b3" stroke="#000" stroke-width="1.45"/>
<rect x="450.15" y="535.80" width="7.8" height="7.8" fill="#b3b3b3" stroke="#000" stroke-width="1.45"/>
<rect x="476.62" y="543.60" width="7.8" height="7.8" fill="#b3b3b3" stroke="#000" stroke-width="1.45"/>
<rect x="503.09" y="547.00" width="7.8" height="7.8" fill="#b3b3b3" stroke="#000" stroke-width="1.45"/>
<line x1="348.17" y1="594.20" x2="348.17" y2="605.90" stroke="#000" stroke-width="1.4"/>
<line x1="344.17" y1="594.20" x2="352.17" y2="594.20" stroke="#000" stroke-width="1.5999999999999999"/>
<line x1="344.17" y1="605.90" x2="352.17" y2="605.90" stroke="#000" stroke-width="1.5999999999999999"/>
<line x1="374.64" y1="606.50" x2="374.64" y2="611.80" stroke="#000" stroke-width="1.4"/>
<line x1="370.64" y1="606.50" x2="378.64" y2="606.50" stroke="#000" stroke-width="1.5999999999999999"/>
<line x1="370.64" y1="611.80" x2="378.64" y2="611.80" stroke="#000" stroke-width="1.5999999999999999"/>
<line x1="401.11" y1="586.90" x2="401.11" y2="601.70" stroke="#000" stroke-width="1.4"/>
<line x1="397.11" y1="586.90" x2="405.11" y2="586.90" stroke="#000" stroke-width="1.5999999999999999"/>
<line x1="397.11" y1="601.70" x2="405.11" y2="601.70" stroke="#000" stroke-width="1.5999999999999999"/>
<line x1="427.58" y1="574.80" x2="427.58" y2="596.30" stroke="#000" stroke-width="1.4"/>
<line x1="423.58" y1="574.80" x2="431.58" y2="574.80" stroke="#000" stroke-width="1.5999999999999999"/>
<line x1="423.58" y1="596.30" x2="431.58" y2="596.30" stroke="#000" stroke-width="1.5999999999999999"/>
<line x1="454.05" y1="575.60" x2="454.05" y2="601.70" stroke="#000" stroke-width="1.4"/>
<line x1="450.05" y1="575.60" x2="458.05" y2="575.60" stroke="#000" stroke-width="1.5999999999999999"/>
<line x1="450.05" y1="601.70" x2="458.05" y2="601.70" stroke="#000" stroke-width="1.5999999999999999"/>
<line x1="480.52" y1="585.60" x2="480.52" y2="609.30" stroke="#000" stroke-width="1.4"/>
<line x1="476.52" y1="585.60" x2="484.52" y2="585.60" stroke="#000" stroke-width="1.5999999999999999"/>
<line x1="476.52" y1="609.30" x2="484.52" y2="609.30" stroke="#000" stroke-width="1.5999999999999999"/>
<line x1="506.99" y1="585.00" x2="506.99" y2="606.60" stroke="#000" stroke-width="1.4"/>
<line x1="502.99" y1="585.00" x2="510.99" y2="585.00" stroke="#000" stroke-width="1.5999999999999999"/>
<line x1="502.99" y1="606.60" x2="510.99" y2="606.60" stroke="#000" stroke-width="1.5999999999999999"/>
<circle cx="321.70" cy="617.50" r="3.4" fill="#fff" stroke="#000" stroke-width="1.7"/>
<circle cx="348.17" cy="600.20" r="3.4" fill="#fff" stroke="#000" stroke-width="1.7"/>
<circle cx="374.64" cy="611.80" r="3.4" fill="#fff" stroke="#000" stroke-width="1.7"/>
<circle cx="401.11" cy="594.20" r="3.4" fill="#fff" stroke="#000" stroke-width="1.7"/>
<circle cx="427.58" cy="585.60" r="3.4" fill="#fff" stroke="#000" stroke-width="1.7"/>
<circle cx="454.05" cy="588.30" r="3.4" fill="#fff" stroke="#000" stroke-width="1.7"/>
<circle cx="480.52" cy="597.70" r="3.4" fill="#fff" stroke="#000" stroke-width="1.7"/>
<circle cx="506.99" cy="595.80" r="3.4" fill="#fff" stroke="#000" stroke-width="1.7"/>
<polygon points="401.11,501.30 401.90,503.31 404.06,503.44 402.39,504.82 402.93,506.91 401.11,505.75 399.29,506.91 399.83,504.82 398.16,503.44 400.32,503.31" fill="#000" stroke="#000" stroke-width="0.4"/>
<polygon points="454.05,523.70 454.84,525.71 457.00,525.84 455.33,527.22 455.87,529.31 454.05,528.15 452.23,529.31 452.77,527.22 451.10,525.84 453.26,525.71" fill="#000" stroke="#000" stroke-width="0.4"/>
<polygon points="480.52,532.10 481.31,534.11 483.47,534.24 481.80,535.62 482.34,537.71 480.52,536.55 478.70,537.71 479.24,535.62 477.57,534.24 479.73,534.11" fill="#000" stroke="#000" stroke-width="0.4"/>
<rect x="179.1" y="662.7" width="237.3" height="50.3" fill="none" stroke="#222" stroke-width="1.2"/>
<line x1="187.30" y1="671.30" x2="202.40" y2="671.30" stroke="#000" stroke-width="1.8"/>
<circle cx="194.90" cy="671.30" r="3.8" fill="#000"/>
<line x1="187.30" y1="687.20" x2="202.40" y2="687.20" stroke="#000" stroke-width="1.8"/>
<rect x="191.00" y="683.30" width="7.8" height="7.8" fill="#b3b3b3" stroke="#000" stroke-width="1.6"/>
<line x1="187.30" y1="704.10" x2="202.40" y2="704.10" stroke="#000" stroke-width="1.8"/>
<circle cx="194.90" cy="704.10" r="3.4" fill="#fff" stroke="#000" stroke-width="1.6"/>
<text x="210.10" y="676.80" font-size="12.9" class="lg">B6.WT</text>
<text x="254.60" y="676.80" font-size="12.9" class="lg">CD4</text>
<text x="280.30" y="671.60" font-size="8.6" class="lg">+</text>
<text x="290.50" y="676.80" font-size="12.9" class="lg">T</text>
<line x1="302.50" y1="673.40" x2="310.70" y2="673.40" stroke="#000" stroke-width="1.5"/>
<path d="M309.40,671.10 L314.20,673.40 L309.40,675.70 Z" fill="#000"/>
<text x="316.90" y="676.80" font-size="12.9" class="lg">B6C3F1</text>
<text x="210.10" y="692.80" font-size="12.9" class="lg">B6.DNAM-1</text>
<text x="277.90" y="687.60" font-size="8.6" class="lg">-/-</text>
<text x="291.70" y="692.80" font-size="12.9" class="lg">CD4</text>
<text x="319.80" y="687.60" font-size="8.6" class="lg">+</text>
<text x="328.50" y="692.80" font-size="12.9" class="lg">T</text>
<line x1="339.50" y1="689.40" x2="348.00" y2="689.40" stroke="#000" stroke-width="1.5"/>
<path d="M346.70,687.10 L351.50,689.40 L346.70,691.70 Z" fill="#000"/>
<text x="354.20" y="692.80" font-size="12.9" class="lg">B6C3F1</text>
<text x="210.10" y="708.70" font-size="12.9" class="lg">B6.WT</text>
<text x="255.10" y="708.70" font-size="12.9" class="lg">(TCD)</text>
<line x1="294.20" y1="705.30" x2="303.30" y2="705.30" stroke="#000" stroke-width="1.5"/>
<path d="M302.00,703.00 L306.80,705.30 L302.00,707.60 Z" fill="#000"/>
<text x="309.80" y="708.70" font-size="12.9" class="lg">B6C3F1</text>
</svg>
</body></html>
